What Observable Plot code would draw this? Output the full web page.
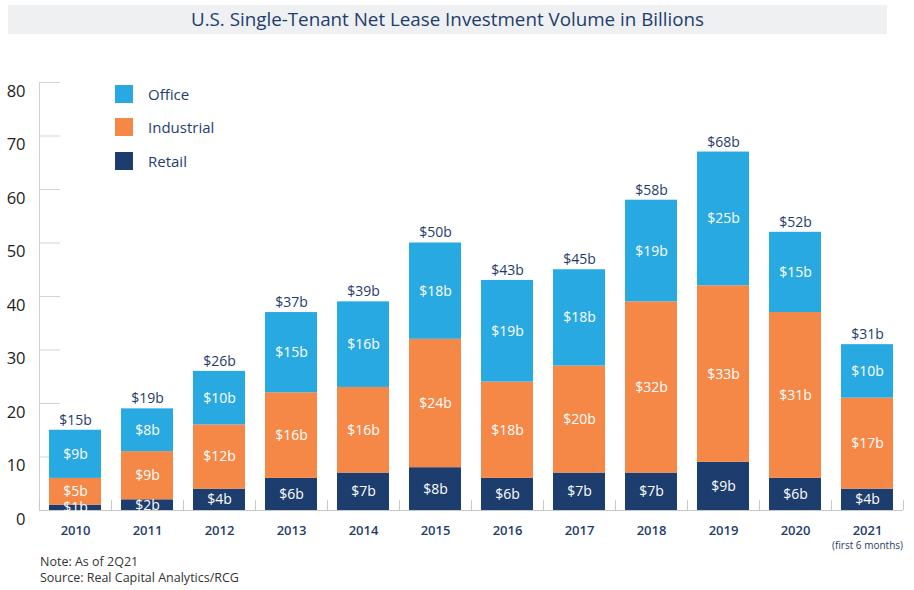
<!DOCTYPE html>
<html><head><meta charset="utf-8">
<script src="https://cdn.jsdelivr.net/npm/d3@7"></script>
<script src="https://cdn.jsdelivr.net/npm/@observablehq/plot@0.6"></script>
<style>
body{margin:0;background:#fff;font-family:"Open Sans",sans-serif;}
#wrap{position:relative;width:914px;height:590px;overflow:hidden;}
#chart{position:absolute;left:0;top:0;}
#title{position:absolute;left:8px;top:5px;width:879px;height:29px;background:#eef0f2;color:#1f3c6e;font-size:18.8px;line-height:29px;text-align:center;z-index:2;}
.sw{position:absolute;left:115px;width:18px;height:18px;z-index:2;}
.lt{position:absolute;left:148px;font-size:15px;color:#1f3c6e;line-height:18px;z-index:2;}
#note{position:absolute;left:40px;top:554px;font-size:12.5px;line-height:16px;color:#333;z-index:2;}
</style></head><body>
<div id="wrap">
  <div id="title">U.S. Single-Tenant Net Lease Investment Volume in Billions</div>
  <div id="chart"></div>
  <div id="legend"></div>
  <div id="note">Note: As of 2Q21<br>Source: Real Capital Analytics/RCG</div>
</div>
<script>
const years = ["2010","2011","2012","2013","2014","2015","2016","2017","2018","2019","2020","2021"];
const retail = [1, 2, 4, 6, 7, 8, 6, 7, 7, 9, 6, 4];
const industrial = [5, 9, 12, 16, 16, 24, 18, 20, 32, 33, 31, 17];
const office = [9, 8, 10, 15, 16, 18, 19, 18, 19, 25, 15, 10];
const totalLabels = ["$15b","$19b","$26b","$37b","$39b","$50b","$43b","$45b","$58b","$68b","$52b","$31b"];
const yTicks = [0, 10, 20, 30, 40, 50, 60, 70, 80];
const types = ["Office", "Industrial", "Retail"];
const colors = ["#29a9e1", "#f58847", "#1c3d6e"];
const stackOrder = ["Retail", "Industrial", "Office"];
const navy = "#1f3c6e";

const data = years.flatMap((yr, i) => [
  {year: yr, type: "Retail", value: retail[i]},
  {year: yr, type: "Industrial", value: industrial[i]},
  {year: yr, type: "Office", value: office[i]}
]);
const totals = years.map((yr, i) => ({year: yr, total: retail[i] + industrial[i] + office[i], label: totalLabels[i]}));

const chart = Plot.plot({
  width: 914, height: 550,
  marginTop: 82, marginBottom: 40, marginLeft: 39, marginRight: 11,
  style: {fontFamily: "Open Sans, sans-serif", background: "transparent", overflow: "visible"},
  x: {domain: years, paddingInner: 0.28, paddingOuter: 0.14, axis: null},
  y: {domain: [0, 80], axis: null},
  color: {domain: types, range: colors},
  marks: [
    Plot.ruleY(yTicks, {stroke: "#d3d3d3", insetRight: 843}),
    Plot.frame({anchor: "left", stroke: "#d0d0d0"}),
    Plot.barY(data, {x: "year", y: "value", fill: "type", order: stackOrder}),
    Plot.ruleY([0], {stroke: "#c8c8c8"}),
    Plot.ruleX(years, {x: d => d, dx: -36, insetTop: 418, stroke: "#c8c8c8"}),
    Plot.ruleX([years[years.length - 1]], {x: d => d, dx: 36, insetTop: 418, stroke: "#c8c8c8"}),
    Plot.text(data, Plot.stackY({x: "year", y: "value", z: "type", order: stackOrder,
      text: d => `$${d.value}b`, fill: "white", fontSize: 14, fontWeight: 500})),
    Plot.text(totals, {x: "year", y: "total", text: "label", dy: -10, fill: navy, fontSize: 14, fontWeight: 500}),
    Plot.axisY({ticks: yTicks, tickSize: 0, tickPadding: 14, dy: 9, fontSize: 16.5, fill: "#222", label: null}),
    Plot.axisX({tickSize: 0, tickPadding: 15, fontSize: 13, fontWeight: 600, fill: navy, label: null}),
    Plot.text([years[years.length - 1]], {x: d => d, frameAnchor: "bottom", dy: 38, text: () => "(first 6 months)", fontSize: 10, fill: navy})
  ]
});
document.getElementById("chart").appendChild(chart);

const legend = document.getElementById("legend");
const legTops = [85, 118, 152];
types.forEach((t, i) => {
  const sw = document.createElement("div");
  sw.className = "sw"; sw.style.top = legTops[i] + "px"; sw.style.background = colors[i];
  const lt = document.createElement("div");
  lt.className = "lt"; lt.style.top = legTops[i] + "px"; lt.textContent = t;
  legend.appendChild(sw); legend.appendChild(lt);
});
</script>
</body></html>
